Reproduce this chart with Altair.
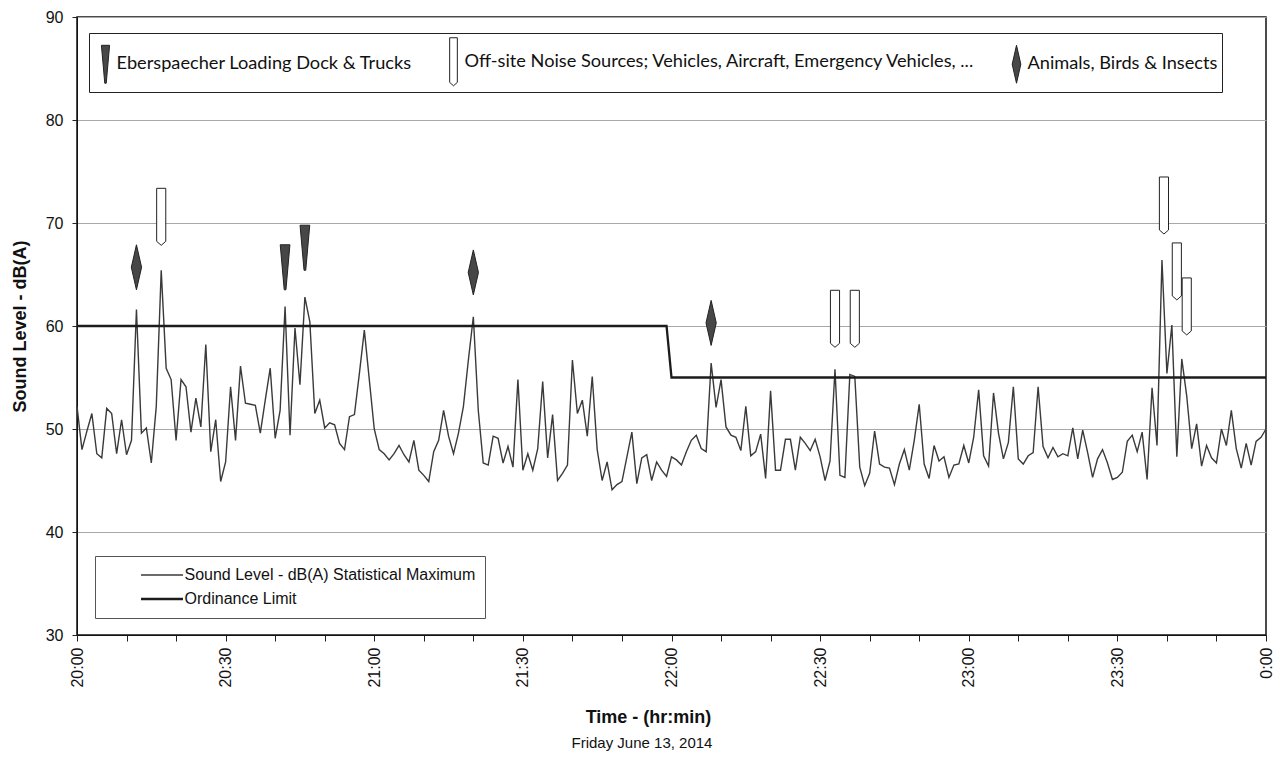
import altair as alt
import pandas as pd

# ---------------- data ----------------
minutes = list(range(241))  # minutes after 20:00
sound_level = [
    52.2, 48.0, 49.8, 51.5, 47.6, 47.2, 52.0, 51.5, 47.6, 50.9,
    47.5, 48.9, 61.6, 49.6, 50.1, 46.7, 52.2, 65.4, 55.9, 54.8,
    48.9, 54.8, 54.1, 49.7, 53.0, 50.2, 58.2, 47.8, 50.9, 44.9,
    46.8, 54.1, 48.9, 56.1, 52.5, 52.4, 52.3, 49.6, 52.8, 55.9,
    49.1, 51.8, 61.9, 49.4, 59.8, 54.3, 62.8, 60.4, 51.5, 52.8,
    50.1, 50.6, 50.4, 48.6, 48.0, 51.2, 51.4, 55.4, 59.6, 54.8,
    50.0, 48.0, 47.6, 47.0, 47.6, 48.4, 47.5, 46.8, 48.9, 46.0,
    45.5, 44.9, 47.8, 48.9, 51.8, 49.3, 47.6, 49.6, 52.2, 56.7,
    60.9, 51.8, 46.7, 46.5, 49.3, 49.1, 46.7, 48.3, 46.3, 54.8,
    46.0, 47.6, 46.0, 48.1, 54.6, 47.2, 51.4, 45.0, 45.7, 46.5,
    56.7, 51.5, 52.8, 49.3, 55.1, 48.0, 45.0, 46.8, 44.1, 44.6,
    44.9, 47.3, 49.7, 44.7, 47.2, 47.5, 45.0, 46.8, 46.0, 45.4,
    47.3, 47.0, 46.5, 47.8, 48.9, 49.4, 48.1, 47.8, 56.4, 52.1,
    54.8, 50.2, 49.4, 49.2, 47.9, 52.2, 47.4, 47.8, 49.5, 45.2,
    53.7, 46.0, 46.0, 49.0, 49.0, 46.0, 49.2, 48.6, 47.9, 49.0,
    47.3, 45.0, 46.9, 55.8, 45.5, 45.3, 55.3, 55.1, 46.3, 44.5,
    45.7, 49.8, 46.6, 46.3, 46.2, 44.6, 46.6, 48.0, 46.0, 48.9,
    52.4, 46.6, 45.2, 48.4, 46.9, 47.3, 45.3, 46.5, 46.6, 48.4,
    46.7, 49.2, 53.8, 47.4, 46.4, 53.5, 49.6, 47.1, 48.7, 54.1,
    47.1, 46.6, 47.4, 47.7, 54.1, 48.3, 47.2, 48.2, 47.3, 47.6,
    47.4, 50.1, 47.1, 49.9, 47.7, 45.3, 47.1, 48.0, 46.7, 45.1,
    45.3, 45.8, 48.8, 49.4, 47.8, 49.7, 45.1, 54.0, 48.4, 66.4,
    55.4, 60.1, 47.3, 56.8, 53.2, 48.1, 50.5, 46.4, 48.4, 47.2,
    46.7, 50.0, 48.4, 51.8, 48.1, 46.2, 48.6, 46.5, 48.8, 49.2,
    50.0,
]
limit_minutes = [0, 119, 120, 240]
limit_levels = [60, 60, 55, 55]

series_names = ["Sound Level - dB(A) Statistical Maximum", "Ordinance Limit"]

source_names = [
    "Eberspaecher Loading Dock & Trucks",
    "Off-site Noise Sources; Vehicles, Aircraft, Emergency Vehicles, ...",
    "Animals, Birds & Insects",
]
marker_source = [2, 2, 2, 0, 0, 1, 1, 1, 1, 1, 1]
marker_minute = [12, 80, 128, 42, 46, 17, 153, 157, 219.4, 222, 224]
marker_level = [65.7, 65.2, 60.3, 65.7, 67.6, 70.6, 60.7, 60.7, 71.7, 65.3, 61.9]

x_title = "Time - (hr:min)"
x_subtitle = "Friday June 13, 2014"
y_title = "Sound Level - dB(A)"

# ---------------- tables ----------------
lines = pd.DataFrame({
    "minute": minutes + limit_minutes,
    "level": sound_level + limit_levels,
    "series": [series_names[0]] * len(minutes) + [series_names[1]] * len(limit_minutes),
})
markers = pd.DataFrame({
    "minute": marker_minute,
    "level": marker_level,
    "source": [source_names[i] for i in marker_source],
})

# marker glyphs (unit box -1..1)
wedge = "M-0.17,-0.79 L0.17,-0.79 L0.03,0.79 L-0.03,0.79 Z"
pencil = "M-0.16,-1 L0.16,-1 L0.16,0.86 L0,1 L-0.16,0.86 Z"
diamond = "M0,-0.79 L0.18,0 L0,0.79 L-0.18,0 Z"

FONT = "Liberation Sans"

x_scale = alt.Scale(domain=[0, 240], nice=False, zero=False)
y_scale = alt.Scale(domain=[30, 90], nice=False, zero=False)

x_axis = alt.Axis(
    values=list(range(0, 241, 5)),
    labelExpr="datum.value % 30 == 0 ? ((20 + floor(datum.value / 60)) % 24) + ':' + (datum.value % 60 == 0 ? '00' : '30') : ''",
    labelAngle=270, labelFont=FONT, labelFontSize=16, labelColor="#111",
    labelPadding=6, labelFlush=False, labelOverlap=False,
    tickSize=6, tickColor="#222", domainColor="#111", grid=False,
    title=x_title, titleFont=FONT, titleFontSize=18, titleFontWeight="bold",
    titleColor="#111", titleX=571, titleY=82, titleAlign="center", titleBaseline="middle",
)
y_axis = alt.Axis(
    values=[30, 40, 50, 60, 70, 80, 90],
    labelFont=FONT, labelFontSize=16, labelColor="#111", labelPadding=9,
    tickSize=5, tickColor="#222", domainColor="#111",
    grid=True, gridColor="#a8a8a8", gridWidth=1,
    title=y_title, titleFont=FONT, titleFontSize=18, titleFontWeight="bold",
    titleColor="#111", titleX=-57, titleY=309, titleAngle=270,
    titleAlign="center", titleBaseline="middle",
)

line_legend = alt.Legend(
    title=None, orient="none", legendX=18, legendY=539, direction="vertical",
    strokeColor="#555", fillColor="white", padding=9.5,
    symbolType="stroke", symbolSize=1764, symbolOffset=35, labelOffset=0,
    clipHeight=19, rowPadding=5,
    labelFont=FONT, labelFontSize=16, labelColor="#111", labelLimit=600,
)

# shift the tall legend glyphs toward the left of their slot if the schema allows it
try:
    alt.Legend(symbolOffset=-12)
    sym_off = -12
except Exception:
    sym_off = 0
lab_off = sym_off - 1.5

marker_legend = alt.Legend(
    title=None, orient="none", legendX=12, legendY=16, direction="horizontal",
    strokeColor="#222", fillColor="white", padding=4,
    symbolSize=2304, symbolStrokeColor="#222", symbolStrokeWidth=1,
    symbolOffset=sym_off, labelOffset={"expr": str(lab_off)}, columnPadding=28,
    labelFont="Lato", labelFontSize=18.2, labelColor="#111", labelLimit=900,
)

line_layer = alt.Chart(lines).mark_line().encode(
    x=alt.X("minute:Q", scale=x_scale, axis=x_axis),
    y=alt.Y("level:Q", scale=y_scale, axis=y_axis),
    color=alt.Color("series:N", scale=alt.Scale(domain=series_names, range=["#3a3a3a", "#1c1c1c"]), legend=line_legend),
    strokeWidth=alt.StrokeWidth("series:N", scale=alt.Scale(domain=series_names, range=[1.4, 2.3]), legend=line_legend),
)

marker_layer = alt.Chart(markers).mark_point(size=3249, opacity=1, strokeWidth=1).encode(
    x=alt.X("minute:Q", scale=x_scale),
    y=alt.Y("level:Q", scale=y_scale),
    shape=alt.Shape("source:N", scale=alt.Scale(domain=source_names, range=[wedge, pencil, diamond]), legend=marker_legend),
    fill=alt.Fill("source:N", scale=alt.Scale(domain=source_names, range=["#474747", "#ffffff", "#474747"]), legend=marker_legend),
    stroke=alt.Stroke("source:N", scale=alt.Scale(domain=source_names, range=["#222222", "#222222", "#222222"]), legend=marker_legend),
)

subtitle_layer = alt.Chart(pd.DataFrame({"t": [x_subtitle]})).mark_text(
    font=FONT, fontSize=15, color="#111", align="center", baseline="middle"
).encode(text="t:N", x=alt.value(565), y=alt.value(726))

chart = alt.layer(line_layer, marker_layer, subtitle_layer).properties(
    width=1189, height=618,
    autosize=alt.AutoSizeParams(type="none"),
    padding={"left": 69, "top": 9, "right": 12, "bottom": 116},
    background="white",
).configure_view(stroke="#111", strokeWidth=1.5)

chart.save("out.html", embed_options={"renderer": "svg", "actions": False})
